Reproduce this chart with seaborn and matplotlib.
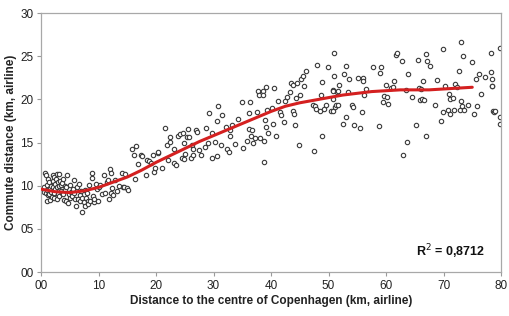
import numpy as np
import pandas as pd
import seaborn as sns
import matplotlib.pyplot as plt
from matplotlib.ticker import FuncFormatter

# points: (distance to centre, commute distance), km
inner_city = [
    (0.3, 9.7), (0.5, 9.8), (0.6, 9.3), (0.7, 11.5), (0.8, 11.2), (0.9, 9.2), (1.0, 8.2), (1.0, 10.1),
    (1.1, 9.5), (1.2, 8.9), (1.2, 10.8), (1.3, 10.4), (1.4, 9.0), (1.5, 9.7), (1.6, 8.3), (1.7, 10.0),
    (1.8, 9.3), (1.9, 8.7), (2.0, 11.2), (2.0, 9.9), (2.1, 10.5), (2.2, 9.1), (2.3, 11.0), (2.3, 8.6),
    (2.4, 10.2), (2.5, 9.6), (2.6, 10.8), (2.7, 8.5), (2.8, 11.3), (2.8, 9.8), (2.9, 10.4), (3.0, 9.0),
    (3.1, 11.4), (3.1, 10.0), (3.2, 8.8), (3.3, 10.6), (3.4, 9.4), (3.5, 10.1), (3.6, 9.2), (3.7, 10.3),
    (3.8, 10.8), (3.9, 9.0), (4.0, 8.3), (4.1, 10.0), (4.2, 9.5), (4.3, 8.2), (4.4, 9.8), (4.6, 11.2),
    (4.7, 8.0), (4.8, 9.0), (5.0, 10.1), (5.1, 8.6), (5.2, 9.3), (5.4, 8.8), (5.5, 9.6), (5.7, 10.7),
    (5.7, 9.2), (5.9, 8.4), (6.1, 7.7), (6.2, 9.9), (6.4, 8.4), (6.6, 10.2), (6.7, 8.9), (6.8, 8.2),
    (7.0, 9.4), (7.1, 8.6), (7.2, 7.0), (7.4, 8.1), (7.6, 9.5), (7.7, 7.6), (7.8, 8.6), (8.0, 9.1),
    (8.1, 8.2), (8.2, 7.9), (8.4, 10.1), (8.6, 8.2), (8.8, 10.9), (8.9, 11.5), (9.0, 8.8), (9.2, 8.1),
    (9.3, 8.4), (9.5, 10.2), (9.7, 9.6), (9.9, 8.2), (10.1, 9.9),
    (10.3, 10.1), (10.6, 9.0), (11.0, 11.2), (11.2, 9.1), (11.5, 10.4), (11.7, 10.7), (11.8, 8.4),
    (12.0, 11.9), (12.1, 9.1), (12.2, 11.5), (12.4, 9.7), (12.6, 8.9), (12.9, 10.7), (13.2, 9.4),
    (13.5, 10.0), (14.0, 11.5), (14.2, 9.9), (14.4, 9.9), (14.6, 11.3), (14.9, 9.7), (15.1, 9.5),
    (15.8, 14.3), (16.1, 13.5), (16.3, 10.8), (16.6, 14.6), (16.9, 12.5), (17.4, 13.6), (17.6, 13.4),
    (18.3, 11.2), (18.5, 13.0), (18.7, 12.9), (19.1, 12.6), (19.4, 13.6), (19.7, 11.6), (19.9, 12.0),
]

middle_ring = [
    (20.3, 13.8), (20.4, 13.9), (21.0, 12.1), (21.6, 16.7), (21.9, 14.7), (22.0, 13.0), (22.4, 15.6),
    (22.5, 15.1), (23.2, 14.3), (23.2, 12.6), (23.5, 12.4), (23.8, 15.8), (24.1, 16.0), (24.5, 13.2),
    (24.7, 16.1), (24.8, 14.9), (24.8, 13.1), (25.0, 13.7), (25.4, 15.6), (25.5, 16.6), (25.8, 15.6),
    (26.0, 13.2), (26.2, 14.7), (26.4, 14.3), (26.5, 13.5), (26.9, 16.4), (27.2, 16.2), (27.4, 14.1),
    (27.9, 13.6), (28.5, 14.5), (28.7, 16.7), (29.0, 15.0), (29.3, 18.4), (29.7, 16.1), (29.8, 13.2),
    (30.3, 15.1), (30.6, 17.5), (30.7, 19.2), (30.6, 13.4), (31.3, 14.7), (31.5, 18.2), (32.2, 16.8),
    (32.3, 14.3), (32.7, 13.9), (32.9, 16.4), (32.9, 15.7), (33.2, 17.0), (33.7, 14.8), (34.2, 17.7),
    (35.0, 19.7), (35.2, 14.4), (35.9, 15.2), (36.1, 16.6), (36.2, 18.4), (36.4, 19.7), (36.5, 15.7),
    (36.7, 16.5), (36.9, 14.9), (37.2, 15.5), (37.6, 18.5), (37.7, 21.0), (37.9, 20.5), (38.0, 15.5),
    (38.6, 21.0), (38.6, 20.5), (38.7, 15.2), (38.7, 12.7), (38.9, 17.6), (39.2, 21.4), (39.2, 16.8),
    (39.3, 18.8), (39.4, 16.1), (40.2, 19.0), (40.3, 17.2), (40.6, 21.3), (40.8, 15.8), (41.2, 19.8),
    (41.6, 18.5), (41.8, 18.2), (42.2, 17.4), (42.4, 19.8), (42.8, 20.3), (43.3, 20.8), (43.5, 21.9),
    (43.8, 21.7), (43.8, 18.6), (44.0, 18.3), (44.2, 17.0), (44.4, 20.1), (44.5, 21.9), (44.9, 14.7),
    (45.1, 20.5), (45.2, 22.3), (45.6, 22.7), (45.8, 21.5), (46.1, 23.3), (47.3, 19.4), (47.5, 14.0),
    (47.6, 19.2), (47.9, 18.9), (48.0, 24.0), (48.5, 18.6), (48.7, 20.5), (48.9, 22.0), (48.9, 15.7),
    (49.3, 18.9), (49.5, 19.3), (49.9, 23.8),
]

outer_ring = [
    (50.4, 18.6), (50.7, 21.1), (50.9, 25.4), (50.8, 21.0), (50.8, 20.0), (50.8, 18.6), (51.0, 22.7),
    (51.2, 19.1), (51.3, 19.3), (51.5, 20.9), (51.6, 21.0), (51.7, 19.4), (51.9, 21.7), (52.6, 17.1),
    (52.7, 22.9), (53.1, 23.9), (53.1, 17.9), (53.4, 20.9), (53.5, 22.4), (54.0, 19.3), (54.2, 19.1),
    (54.5, 17.0), (55.2, 22.5), (55.5, 16.7), (55.8, 18.5), (56.0, 22.5), (56.0, 22.1), (56.1, 20.5),
    (56.6, 21.2), (57.7, 23.7), (58.8, 16.9), (58.9, 23.1), (59.2, 23.7), (59.5, 19.7), (59.6, 20.4),
    (60.0, 21.7), (60.1, 20.3), (60.4, 19.5), (60.8, 21.3), (61.2, 21.4), (61.4, 22.1), (61.7, 25.1),
    (61.9, 25.4), (62.7, 24.4), (63.0, 13.6), (63.4, 21.1), (63.6, 15.1), (63.9, 22.9), (64.6, 20.3),
    (65.3, 17.0), (65.5, 24.6), (65.7, 21.3), (65.9, 19.9), (66.0, 21.2), (66.3, 20.0), (66.5, 22.1),
    (66.6, 19.9), (66.9, 25.3), (66.9, 15.8), (67.1, 24.4), (67.7, 23.9), (68.6, 19.3), (68.9, 22.2),
    (69.5, 17.5), (69.9, 18.5), (69.9, 25.8), (70.2, 21.6), (70.8, 18.8), (70.9, 20.6), (71.2, 18.3),
    (71.2, 20.0), (71.6, 20.1), (71.9, 18.8), (72.0, 21.8), (72.3, 21.4), (72.7, 23.3), (72.9, 18.8),
    (73.0, 26.6), (73.1, 19.8), (73.3, 19.2), (73.4, 25.0), (73.6, 18.8), (74.3, 19.3), (74.9, 24.3),
    (75.3, 18.3), (75.6, 22.3), (75.9, 19.2), (76.1, 22.9), (76.5, 20.6), (77.3, 22.6), (78.2, 23.2),
    (78.3, 25.4), (78.4, 21.5), (78.5, 22.4), (78.5, 21.6), (78.6, 18.7), (78.7, 18.5), (78.9, 18.7),
    (79.8, 17.9), (79.9, 26.0), (79.9, 17.1),
]

# trend line
trend_x = [0, 2.5, 5, 7.5, 10, 12.5, 15, 17.5, 20, 22.5, 25, 27.5, 30, 32.5, 35, 37.5,
           40, 42.5, 45, 47.5, 50, 52.5, 55, 57.5, 60, 62.5, 65, 67.5, 70, 72.5, 75]
trend_y = [9.6, 9.3, 9.2, 9.4, 9.8, 10.4, 11.0, 11.8, 12.7, 13.5, 14.3, 15.1, 15.8, 16.5, 17.2, 17.9,
           18.6, 19.2, 19.6, 19.9, 20.2, 20.5, 20.7, 20.9, 21.0, 21.1, 21.1, 21.1, 21.2, 21.3, 21.4]

r2_label = "R$^2$ = 0,8712"

df = pd.DataFrame(inner_city + middle_ring + outer_ring, columns=["dist", "commute"])

sns.set_style("white")
plt.rcParams["font.family"] = ["Liberation Sans", "DejaVu Sans"]

fig = plt.figure(figsize=(5.09, 3.16), dpi=100)
ax = fig.add_axes([0.0806, 0.1392, 0.9037, 0.8196])

sns.scatterplot(data=df, x="dist", y="commute", ax=ax, marker="o", s=10,
                facecolor="white", edgecolor="#3a3a3a", linewidth=0.8, zorder=2)
sns.lineplot(x=trend_x, y=trend_y, ax=ax, color="#d42020", linewidth=2.2, zorder=3)

ax.set_xlim(0, 80)
ax.set_ylim(0, 30)
ax.set_xticks(range(0, 81, 10))
ax.set_yticks(range(0, 31, 5))
fmt = FuncFormatter(lambda v, p: f"{v:02.0f}")
ax.xaxis.set_major_formatter(fmt)
ax.yaxis.set_major_formatter(fmt)
ax.tick_params(axis="both", labelsize=8.5, colors="#9a9a9a", labelcolor="#222222",
               length=3, width=0.8, direction="out", bottom=True, left=True, pad=2.5)

for sp in ax.spines.values():
    sp.set_color("#a8a8a8")
    sp.set_linewidth(0.9)

ax.set_xlabel("Distance to the centre of Copenhagen (km, airline)", fontsize=8.5,
              fontweight="bold", color="#222222")
ax.set_ylabel("Commute distance (km, airline)", fontsize=8.5, fontweight="bold",
              color="#222222")
ax.xaxis.set_label_coords(0.5, -0.09)
ax.yaxis.set_label_coords(-0.052, 0.5)

ax.text(65.2, 2.3, r2_label, fontsize=9, fontweight="bold", color="#111111",
        ha="left", va="center")

fig.savefig("out.png", dpi=100)
